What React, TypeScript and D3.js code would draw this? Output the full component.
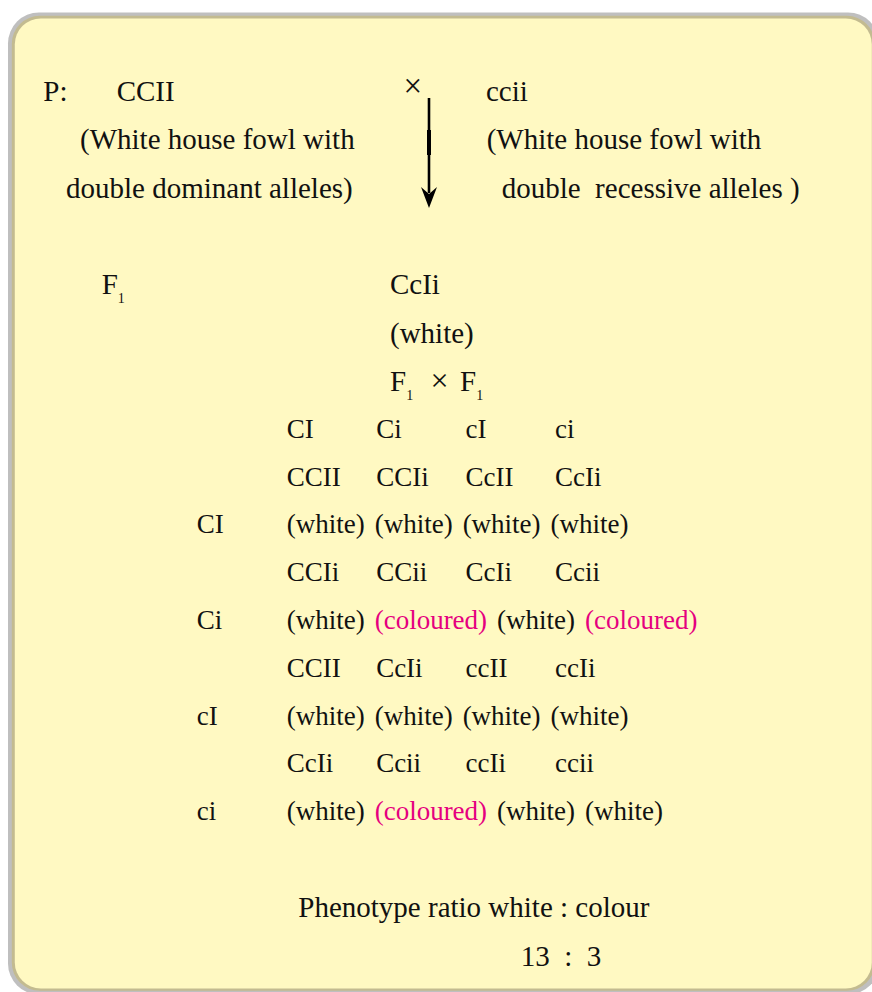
import React from "react";
import * as d3 from "d3";

// ---------- data ----------
const parentLeft = ["CCII", "(White house fowl with", "double dominant alleles)"];
const parentRight = ["ccii", "(White house fowl with", "double  recessive alleles )"];
const f1Genotype = "CcIi";
const f1Phenotype = "(white)";
const gametes = ["CI", "Ci", "cI", "ci"];
const genotypes = [
  ["CCII", "CCIi", "CcII", "CcIi"],
  ["CCIi", "CCii", "CcIi", "Ccii"],
  ["CCII", "CcIi", "ccII", "ccIi"],
  ["CcIi", "Ccii", "ccIi", "ccii"],
];
const phenotypes = [
  ["white", "white", "white", "white"],
  ["white", "coloured", "white", "coloured"],
  ["white", "white", "white", "white"],
  ["white", "coloured", "white", "white"],
];
const ratioLabel = "Phenotype ratio white : colour";
const ratioValue = "13  :  3";

// ---------- styles ----------
const FONT = "'Times New Roman', 'Liberation Serif', serif";
const BIG = 29;
const SMALL = 27;
const SUB = 14;
const MAGENTA = "#E5007F";
const INK = "#111";

export default function App() {
  const W = 872;
  const H = 992;

  // header rows (baselines)
  const headY = d3.scaleLinear().domain([0, 1]).range([101, 149.3]);
  const f1Y = d3.scaleLinear().domain([0, 1]).range([294.3, 342.5]);
  // punnett grid
  const rowY = d3.scaleLinear().domain([0, 1]).range([437.7, 485.5]);
  const colX = d3.scaleLinear().domain([0, 3]).range([286.7, 555]);
  const labelX = 196.7;

  // arrow
  const ax = 429;
  const aTop = 98;
  const aTip = 208;
  const headLen = 21;
  const headHalf = 8;
  const arrowHead = d3.path();
  arrowHead.moveTo(ax, aTip);
  arrowHead.lineTo(ax - headHalf, aTip - headLen);
  arrowHead.lineTo(ax, aTip - headLen + 7);
  arrowHead.lineTo(ax + headHalf, aTip - headLen);
  arrowHead.closePath();

  const textProps = { fontFamily: FONT, fill: INK } as const;

  return (
    <svg
      width={W}
      height={H}
      viewBox={`0 0 ${W} ${H}`}
      style={{ position: "absolute", left: 0, top: 0, display: "block" }}
    >
      <rect x={0} y={0} width={W} height={H} fill="#ffffff" />
      {/* box */}
      <rect x={8} y={12.5} width={871} height={982} rx={31} ry={31} fill="#bfbfbf" />
      <rect x={11.8} y={15.8} width={863} height={975} rx={28} ry={28} fill="#c3bb90" />
      <rect x={14.8} y={18.4} width={857} height={970} rx={26} ry={26} fill="#FFF9C2" />

      {/* P row */}
      <g {...textProps} fontSize={BIG}>
        <text x={43.3} y={headY(0)}>P:</text>
        <text x={116.7} y={headY(0)}>{parentLeft[0]}</text>
        <text x={403.5} y={headY(0) - 4} fontSize={33}>×</text>
        <text x={486} y={headY(0)}>{parentRight[0]}</text>
        <text x={80} y={headY(1)}>{parentLeft[1]}</text>
        <text x={486.7} y={headY(1)}>{parentRight[1]}</text>
        <text x={66} y={headY(2)}>{parentLeft[2]}</text>
        <text x={501.7} y={headY(2)} style={{ whiteSpace: "pre" }}>
          {parentRight[2]}
        </text>
      </g>

      {/* arrow */}
      <line x1={ax} x2={ax} y1={aTop} y2={aTip - 15} stroke="#000" strokeWidth={2.6} />
      <line x1={ax} x2={ax} y1={130} y2={155} stroke="#000" strokeWidth={4} />
      <path d={arrowHead.toString()} fill="#000" />

      {/* F1 */}
      <g {...textProps} fontSize={BIG}>
        <text x={101.7} y={f1Y(0)}>
          F<tspan fontSize={SUB} dy={9}>1</tspan>
        </text>
        <text x={390} y={f1Y(0)}>{f1Genotype}</text>
        <text x={390} y={f1Y(1)}>{f1Phenotype}</text>
        <text x={390} y={f1Y(2)}>
          F<tspan fontSize={SUB} dy={9}>1</tspan>
        </text>
        <text x={430.5} y={f1Y(2)} fontSize={32}>×</text>
        <text x={460} y={f1Y(2)}>
          F<tspan fontSize={SUB} dy={9}>1</tspan>
        </text>
      </g>

      {/* Punnett square */}
      <g {...textProps} fontSize={SMALL}>
        {gametes.map((g, i) => (
          <text key={"h" + i} x={colX(i)} y={rowY(0)}>
            {g}
          </text>
        ))}
        {genotypes.map((row, r) => (
          <g key={"r" + r}>
            {row.map((gt, c) => (
              <text key={c} x={colX(c)} y={rowY(1 + r * 2)}>
                {gt}
              </text>
            ))}
            <text x={labelX} y={rowY(2 + r * 2)}>
              {gametes[r]}
            </text>
            <text x={colX(0)} y={rowY(2 + r * 2)}>
              {phenotypes[r].map((p, c) => (
                <tspan
                  key={c}
                  dx={c === 0 ? 0 : 10}
                  fill={p === "coloured" ? MAGENTA : INK}
                >
                  {`(${p})`}
                </tspan>
              ))}
            </text>
          </g>
        ))}
      </g>

      {/* ratio */}
      <g {...textProps} fontSize={BIG}>
        <text x={298.3} y={917}>{ratioLabel}</text>
        <text x={520.7} y={966} style={{ whiteSpace: "pre" }}>
          {ratioValue}
        </text>
      </g>
    </svg>
  );
}
